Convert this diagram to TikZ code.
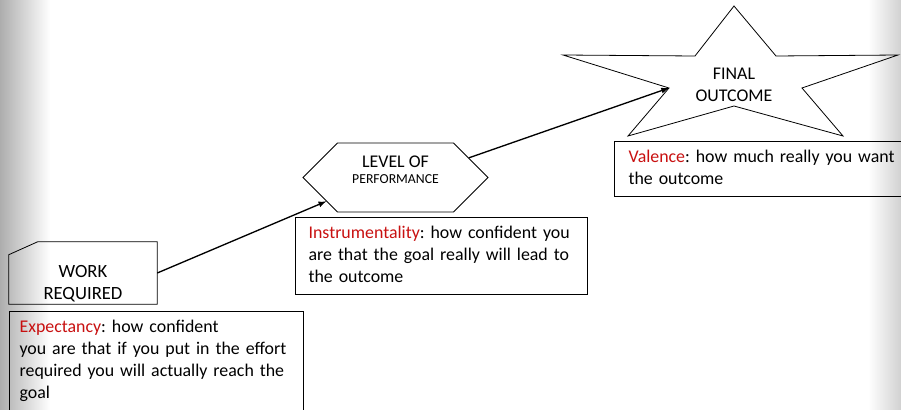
\documentclass[tikz,border=0pt]{standalone}
\usepackage{fontspec}
\setmainfont{Carlito}
\usetikzlibrary{positioning,calc,shapes.symbols}
\definecolor{keyred}{RGB}{200,16,16}
\frenchspacing

\begin{document}
\begin{tikzpicture}[x=0.75pt,y=-0.75pt,font=\fontsize{13.4}{16.4}\selectfont,
	shapeline/.style={draw,line width=0.6pt},
	note/.style={draw,line width=0.9pt,anchor=north west,align=left,inner ysep=4.25pt,
		execute at begin node=\strut,execute at end node=\strut},
	conn/.style={-latex,line width=1pt}]
	\useasboundingbox (0,0) rectangle (901,410);
	\clip (0,0) rectangle (901,410);
	\shade[left color=black!32,right color=white] (0,0) rectangle (50,410);
	\shade[left color=white,right color=black!18] (868,0) rectangle (901,410);

	\node[minimum width=111pt,minimum height=46.5pt,
		label={[align=center,yshift=-8pt,font=\fontsize{14}{17}\selectfont]center:{WORK\\REQUIRED}}] (work) at (83,273) {};
	\draw[shapeline] ($(work.north west)+(0,13)$) -- ($(work.north west)+(29,0)$)
		-- (work.north east) -- (work.south east) -- (work.south west) -- cycle;

	\node[shapeline,signal,signal to=west and east,signal pointer angle=90,
		minimum width=138.75pt,minimum height=51.75pt,
		label={[align=center,yshift=6pt]center:{LEVEL OF\\[-4.4pt]{\fontsize{10.3}{12}\selectfont PERFORMANCE}}}] (perf) at (395.5,177.5) {};

	\draw[shapeline] (734,6) -- (776,56) -- (898,55) -- (802,88) -- (843,136) -- (734,106)
		-- (628,136) -- (669,88) -- (563,55) -- (695,56) -- cycle;
	\node[align=center] (final) at (734,85) {FINAL\\OUTCOME};
	\coordinate (finalin) at (669,88);

	\node[note,inner xsep=7.5pt,text width=205.5pt,text depth=80pt] (expect) at (9,311)
		{\textcolor{keyred}{Expectancy}: how confident\\you are that if you put in the effort\\required you will actually reach the\\goal};
	\node[note,inner xsep=9.75pt,text width=199.5pt] (instr) at (295,217)
		{\textcolor{keyred}{Instrumentality}: how confident you\\are that the goal really will lead to\\the outcome};
	\node[note,inner xsep=10.5pt,text width=204pt] (valence) at (614,141)
		{\textcolor{keyred}{Valence}: how much really you want\\the outcome};

	\draw[conn] (work.east) -- (perf.199);
	\draw[conn] (perf.15) -- (finalin);
\end{tikzpicture}
\end{document}
